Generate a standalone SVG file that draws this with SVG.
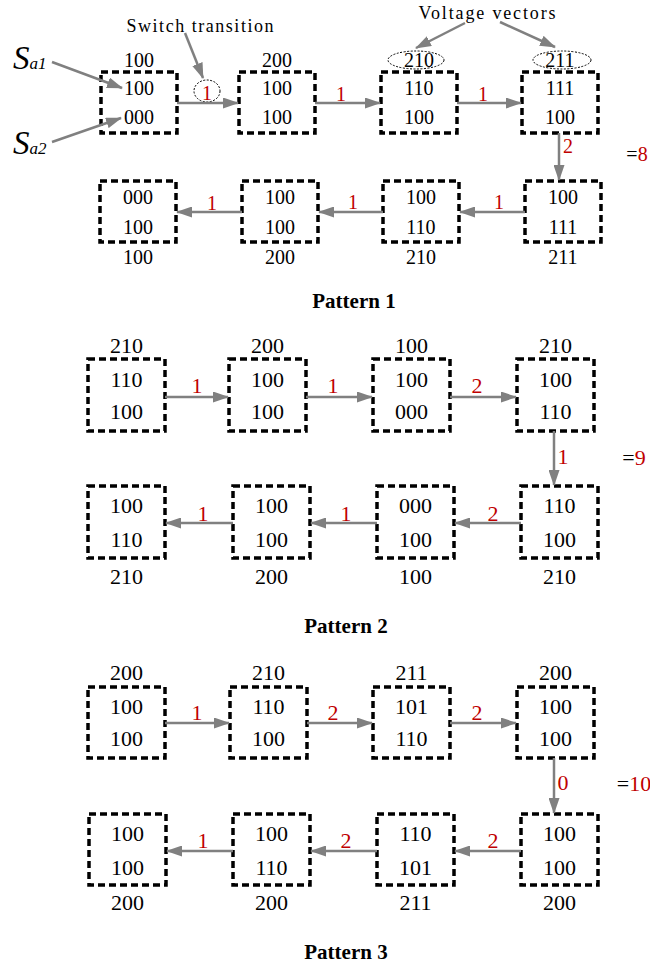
<svg xmlns="http://www.w3.org/2000/svg" width="650" height="967" viewBox="0 0 650 967">
<defs>
<marker id="ah" markerUnits="userSpaceOnUse" markerWidth="16" markerHeight="11" refX="15" refY="5.5" orient="auto">
<path d="M0,0 L16,5.5 L0,11 z" fill="#808080"/>
</marker>
<style>
.box{fill:none;stroke:#000;stroke-width:3.5;stroke-dasharray:7 4}
.t{font-family:"Liberation Serif","Times New Roman",serif;text-anchor:middle;fill:#000}
.s1{font-size:20px}
.s2{font-size:22px}
.r{fill:#c00000}
.arr{stroke:#808080;stroke-width:2.5;fill:none;marker-end:url(#ah)}
.oval{fill:none;stroke:#000;stroke-width:1;stroke-dasharray:2 1.5}
.title{font-family:"Liberation Serif","Times New Roman",serif;font-weight:bold;font-size:21px;text-anchor:middle}
.ann{font-family:"Liberation Serif","Times New Roman",serif;font-size:18px;text-anchor:middle}
.sa{font-family:"Liberation Serif","Times New Roman",serif;font-style:italic}
</style>
</defs>

<!-- annotations -->
<g id="annotations">
<text class="ann" x="200" y="32" textLength="147" lengthAdjust="spacing">Switch transition</text>
<text class="ann" x="487" y="19" textLength="137" lengthAdjust="spacing">Voltage vectors</text>
<ellipse class="oval" cx="207" cy="91" rx="13" ry="11"/>
<ellipse class="oval" cx="416" cy="60" rx="28" ry="9"/>
<ellipse class="oval" cx="562" cy="60" rx="29" ry="9"/>
<text class="sa" x="13" y="69" font-size="33">S<tspan font-size="17">a1</tspan></text>
<text class="sa" x="13" y="154" font-size="33">S<tspan font-size="17">a2</tspan></text>
</g>

<!-- Pattern 1 -->
<g id="p1-n1"><rect class="box" x="101" y="72" width="76" height="61"/>
<text class="t s1" x="139" y="67">100</text><text class="t s1" x="139" y="95">100</text><text class="t s1" x="139" y="124">000</text></g>
<g id="p1-n2"><rect class="box" x="239" y="72" width="76" height="61"/>
<text class="t s1" x="277" y="67">200</text><text class="t s1" x="277" y="95">100</text><text class="t s1" x="277" y="124">100</text></g>
<g id="p1-n3"><rect class="box" x="381" y="72" width="76" height="61"/>
<text class="t s1" x="419" y="67">210</text><text class="t s1" x="419" y="95">110</text><text class="t s1" x="419" y="124">100</text></g>
<g id="p1-n4"><rect class="box" x="522" y="72" width="76" height="61"/>
<text class="t s1" x="560" y="67">211</text><text class="t s1" x="560" y="95">111</text><text class="t s1" x="560" y="124">100</text></g>
<g id="p1-n5"><rect class="box" x="100" y="181" width="76" height="61"/>
<text class="t s1" x="138" y="204">000</text><text class="t s1" x="138" y="234">100</text><text class="t s1" x="138" y="264">100</text></g>
<g id="p1-n6"><rect class="box" x="242" y="181" width="76" height="61"/>
<text class="t s1" x="280" y="204">100</text><text class="t s1" x="280" y="234">100</text><text class="t s1" x="280" y="264">200</text></g>
<g id="p1-n7"><rect class="box" x="383" y="181" width="76" height="61"/>
<text class="t s1" x="421" y="204">100</text><text class="t s1" x="421" y="234">110</text><text class="t s1" x="421" y="264">210</text></g>
<g id="p1-n8"><rect class="box" x="525" y="181" width="76" height="61"/>
<text class="t s1" x="563" y="204">100</text><text class="t s1" x="563" y="234">111</text><text class="t s1" x="563" y="264">211</text></g>
<text class="title" x="354" y="308">Pattern 1</text>
<text class="t s1" x="637" y="161"><tspan>=</tspan><tspan class="r">8</tspan></text>

<!-- Pattern 2 -->
<g id="p2-n1"><rect class="box" x="88" y="359" width="77" height="72"/>
<text class="t s2" x="126.5" y="353">210</text><text class="t s2" x="126.5" y="387">110</text><text class="t s2" x="126.5" y="419">100</text></g>
<g id="p2-n2"><rect class="box" x="229" y="359" width="77" height="72"/>
<text class="t s2" x="267.5" y="353">200</text><text class="t s2" x="267.5" y="387">100</text><text class="t s2" x="267.5" y="419">100</text></g>
<g id="p2-n3"><rect class="box" x="373" y="359" width="77" height="72"/>
<text class="t s2" x="411.5" y="353">100</text><text class="t s2" x="411.5" y="387">100</text><text class="t s2" x="411.5" y="419">000</text></g>
<g id="p2-n4"><rect class="box" x="517" y="359" width="77" height="72"/>
<text class="t s2" x="555.5" y="353">210</text><text class="t s2" x="555.5" y="387">100</text><text class="t s2" x="555.5" y="419">110</text></g>
<g id="p2-n5"><rect class="box" x="88" y="486" width="77" height="72"/>
<text class="t s2" x="126.5" y="513">100</text><text class="t s2" x="126.5" y="547">110</text><text class="t s2" x="126.5" y="584">210</text></g>
<g id="p2-n6"><rect class="box" x="233" y="486" width="77" height="72"/>
<text class="t s2" x="271.5" y="513">100</text><text class="t s2" x="271.5" y="547">100</text><text class="t s2" x="271.5" y="584">200</text></g>
<g id="p2-n7"><rect class="box" x="377" y="486" width="77" height="72"/>
<text class="t s2" x="415.5" y="513">000</text><text class="t s2" x="415.5" y="547">100</text><text class="t s2" x="415.5" y="584">100</text></g>
<g id="p2-n8"><rect class="box" x="521" y="486" width="77" height="72"/>
<text class="t s2" x="559.5" y="513">110</text><text class="t s2" x="559.5" y="547">100</text><text class="t s2" x="559.5" y="584">210</text></g>
<text class="title" x="346" y="633">Pattern 2</text>
<text class="t s2" x="634" y="465"><tspan>=</tspan><tspan class="r">9</tspan></text>

<!-- Pattern 3 -->
<g id="p3-n1"><rect class="box" x="88" y="687" width="77" height="71"/>
<text class="t s2" x="126.5" y="680">200</text><text class="t s2" x="126.5" y="714">100</text><text class="t s2" x="126.5" y="746">100</text></g>
<g id="p3-n2"><rect class="box" x="230" y="687" width="77" height="71"/>
<text class="t s2" x="268.5" y="680">210</text><text class="t s2" x="268.5" y="714">110</text><text class="t s2" x="268.5" y="746">100</text></g>
<g id="p3-n3"><rect class="box" x="373" y="687" width="77" height="71"/>
<text class="t s2" x="411.5" y="680">211</text><text class="t s2" x="411.5" y="714">101</text><text class="t s2" x="411.5" y="746">110</text></g>
<g id="p3-n4"><rect class="box" x="517" y="687" width="77" height="71"/>
<text class="t s2" x="555.5" y="680">200</text><text class="t s2" x="555.5" y="714">100</text><text class="t s2" x="555.5" y="746">100</text></g>
<g id="p3-n5"><rect class="box" x="89" y="814" width="77" height="71"/>
<text class="t s2" x="127.5" y="841">100</text><text class="t s2" x="127.5" y="875">100</text><text class="t s2" x="127.5" y="910">200</text></g>
<g id="p3-n6"><rect class="box" x="233" y="814" width="77" height="71"/>
<text class="t s2" x="271.5" y="841">100</text><text class="t s2" x="271.5" y="875">110</text><text class="t s2" x="271.5" y="910">200</text></g>
<g id="p3-n7"><rect class="box" x="377" y="814" width="77" height="71"/>
<text class="t s2" x="415.5" y="841">110</text><text class="t s2" x="415.5" y="875">101</text><text class="t s2" x="415.5" y="910">211</text></g>
<g id="p3-n8"><rect class="box" x="521" y="814" width="77" height="71"/>
<text class="t s2" x="559.5" y="841">100</text><text class="t s2" x="559.5" y="875">100</text><text class="t s2" x="559.5" y="910">200</text></g>
<text class="title" x="346" y="959">Pattern 3</text>
<text class="t s2" x="634" y="791"><tspan>=</tspan><tspan class="r">10</tspan></text>

<!-- connectors -->
<g id="connectors">
<line class="arr" x1="185" y1="33" x2="203" y2="78"/>
<line class="arr" x1="465" y1="23" x2="416" y2="48"/>
<line class="arr" x1="500" y1="22" x2="555" y2="47"/>
<line class="arr" x1="52" y1="62" x2="122" y2="88"/>
<line class="arr" x1="52" y1="142" x2="121" y2="118"/>

<line class="arr" x1="177" y1="103" x2="238" y2="103"/>
<line class="arr" x1="315" y1="103" x2="380" y2="103"/>
<line class="arr" x1="457" y1="103" x2="521" y2="103"/>
<line class="arr" x1="559" y1="133" x2="559" y2="180"/>
<line class="arr" x1="525" y1="212" x2="460" y2="212"/>
<line class="arr" x1="383" y1="212" x2="319" y2="212"/>
<line class="arr" x1="242" y1="212" x2="177" y2="212"/>

<line class="arr" x1="165" y1="397" x2="228" y2="397"/>
<line class="arr" x1="306" y1="397" x2="372" y2="397"/>
<line class="arr" x1="450" y1="397" x2="516" y2="397"/>
<line class="arr" x1="554" y1="431" x2="554" y2="485"/>
<line class="arr" x1="521" y1="523" x2="455" y2="523"/>
<line class="arr" x1="377" y1="523" x2="311" y2="523"/>
<line class="arr" x1="233" y1="523" x2="166" y2="523"/>

<line class="arr" x1="165" y1="723" x2="229" y2="723"/>
<line class="arr" x1="307" y1="723" x2="372" y2="723"/>
<line class="arr" x1="450" y1="723" x2="516" y2="723"/>
<line class="arr" x1="554" y1="758" x2="554" y2="813"/>
<line class="arr" x1="521" y1="851" x2="455" y2="851"/>
<line class="arr" x1="377" y1="851" x2="311" y2="851"/>
<line class="arr" x1="233" y1="851" x2="167" y2="851"/>

<text class="t s1 r" x="207" y="100">1</text>
<text class="t s1 r" x="341" y="101">1</text>
<text class="t s1 r" x="483" y="101">1</text>
<text class="t s1 r" x="568" y="153">2</text>
<text class="t s1 r" x="499" y="209">1</text>
<text class="t s1 r" x="353" y="209">1</text>
<text class="t s1 r" x="212" y="210">1</text>

<text class="t s2 r" x="197" y="393">1</text>
<text class="t s2 r" x="333" y="393">1</text>
<text class="t s2 r" x="477" y="393">2</text>
<text class="t s2 r" x="563" y="464">1</text>
<text class="t s2 r" x="493" y="521">2</text>
<text class="t s2 r" x="346" y="521">1</text>
<text class="t s2 r" x="203" y="521">1</text>

<text class="t s2 r" x="197" y="720">1</text>
<text class="t s2 r" x="333" y="720">2</text>
<text class="t s2 r" x="477" y="720">2</text>
<text class="t s2 r" x="563" y="790">0</text>
<text class="t s2 r" x="493" y="848">2</text>
<text class="t s2 r" x="346" y="848">2</text>
<text class="t s2 r" x="203" y="848">1</text>
</g>
</svg>
